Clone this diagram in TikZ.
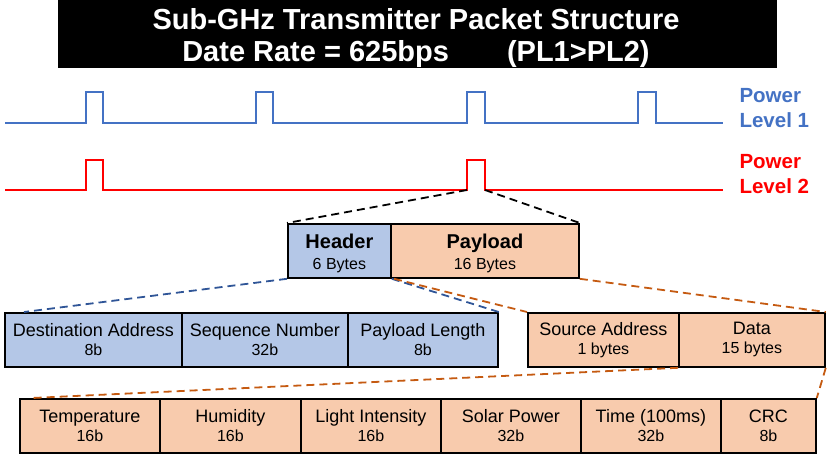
\documentclass[tikz,border=0pt]{standalone}
\usepackage{fontspec}
\setmainfont{Liberation Sans}
\definecolor{pblue}{HTML}{4472C4}
\definecolor{hblue}{HTML}{B4C7E7}
\definecolor{porange}{HTML}{F8CBAD}
\definecolor{dorange}{HTML}{C55A11}
\definecolor{dblue}{HTML}{2F5597}
\definecolor{pred}{HTML}{FF0000}
\tikzset{
 fbox/.style={draw=black, line width=1.8pt, minimum height=54pt, inner sep=0pt, align=center, anchor=north west, font=\fontsize{18}{19}\selectfont},
 bluef/.style={fbox, fill=hblue},
 orf/.style={fbox, fill=porange},
 wave/.style={line width=1.8pt},
 zoomline/.style={dash pattern=on 8pt off 5pt, line width=1.8pt},
 plabel/.style={font=\bfseries\fontsize{20.5}{25}\selectfont, align=left, anchor=west},
 ttext/.style={text=white, font=\bfseries\fontsize{29}{31}\selectfont, anchor=base, inner sep=0pt}
}
\newcommand\two[2]{#1\\{\fontsize{16}{19}\selectfont #2}}
\begin{document}
\begin{tikzpicture}[x=1pt,y=-1pt]
\useasboundingbox (0,0) rectangle (830,458);
% title
\node[fill=black, minimum width=719pt, minimum height=68pt, inner sep=0pt, anchor=north west] (title) at (58,0) {};
\node[ttext] (t1) at (416,29) {Sub-GHz Transmitter Packet Structure};
\node[ttext] (t2) at (416,61) {Date Rate = 625bps\hspace{58pt}(PL1>PL2)};
% power level 1
\draw[wave, pblue] (5,123) -- (86,123) -- (86,92) -- (103,92) -- (103,123)
  -- (256,123) -- (256,92) -- (273,92) -- (273,123)
  -- (467,123) -- (467,92) -- (485,92) -- (485,123)
  -- (638,123) -- (638,92) -- (656,92) -- (656,123) -- (723,123);
\node[plabel, text=pblue] (pl1) at (736,108) {Power\\Level 1};
% power level 2
\coordinate (r3l) at (467,190);
\coordinate (r3r) at (485,190);
\draw[wave, pred] (5,190) -- (86,190) -- (86,160) -- (103,160) -- (103,190)
  -- (r3l) -- (467,160) -- (485,160) -- (r3r) -- (723,190);
\node[plabel, text=pred] (pl2) at (736,174) {Power\\Level 2};
% header / payload
\node[bluef, minimum width=103pt, font=\fontsize{20}{21}\selectfont] (hdr) at (287,223) {\rule{0pt}{20pt}\textbf{Header}\\{\fontsize{16}{21}\selectfont 6 Bytes}};
\node[orf, minimum width=188pt, font=\fontsize{20}{21}\selectfont] (pay) at (390,223) {\rule{0pt}{20pt}\textbf{Payload}\\{\fontsize{16}{21}\selectfont 16 Bytes}};
\draw[zoomline, black] (r3l) -- (hdr.north west);
\draw[zoomline, black] (r3r) -- (pay.north east);
% row 2
\node[bluef, minimum width=177pt] (dst) at (4,312) {\two{Destination Address}{8b}};
\node[bluef, minimum width=166pt] (seq) at (181,312) {\two{Sequence Number}{32b}};
\node[bluef, minimum width=150pt] (plen) at (347,312) {\two{Payload Length}{8b}};
\node[orf, minimum width=151pt] (src) at (527,312) {\two{Source Address}{1 bytes}};
\node[orf, minimum width=146pt] (data) at (678,312) {\two{Data}{15 bytes}};
\draw[zoomline, dblue] (hdr.south west) -- ([xshift=20pt]dst.north west);
\draw[zoomline, dblue] (hdr.south east) -- (plen.north east);
\draw[zoomline, dorange] ([xshift=4pt]pay.south west) -- (src.north west);
\draw[zoomline, dorange] (pay.south east) -- (data.north east);
% row 3
\node[orf, minimum width=140pt] (temp) at (19,398) {\two{Temperature}{16b}};
\node[orf, minimum width=141pt] (hum) at (159,398) {\two{Humidity}{16b}};
\node[orf, minimum width=140pt] (light) at (300,398) {\two{Light Intensity}{16b}};
\node[orf, minimum width=140pt] (solar) at (440,398) {\two{Solar Power}{32b}};
\node[orf, minimum width=140pt] (time) at (580,398) {\two{Time (100ms)}{32b}};
\node[orf, minimum width=95pt] (crc) at (720,398) {\two{CRC}{8b}};
\draw[zoomline, dorange] (data.south west) -- ([xshift=13pt]temp.north west);
\draw[zoomline, dorange] (data.south east) -- (crc.north east);
\end{tikzpicture}
\end{document}
